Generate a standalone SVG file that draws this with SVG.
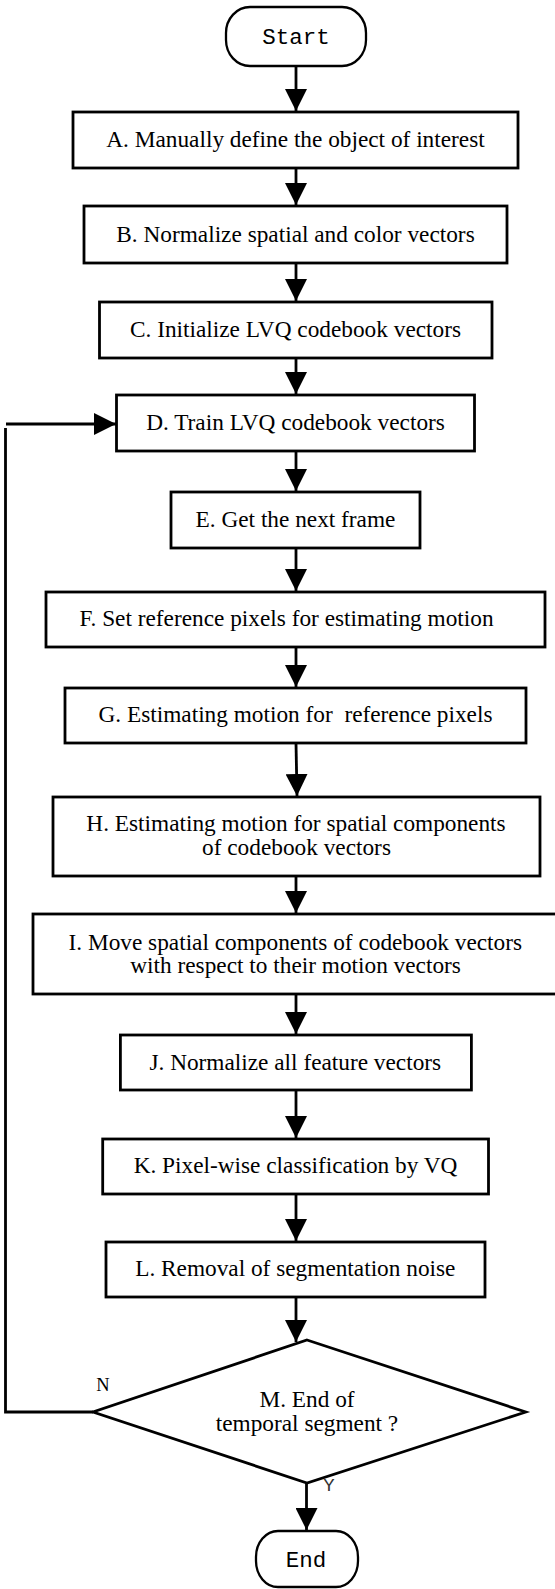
<svg xmlns="http://www.w3.org/2000/svg" width="555" height="1589" viewBox="0 0 555 1589">
<style>
.box{fill:#fff;stroke:#000;stroke-width:2.8}
.term{fill:#fff;stroke:#000;stroke-width:2.3}
.t{font-family:"Liberation Serif","Times New Roman",serif;font-size:23.3px;fill:#000;text-anchor:middle;white-space:pre}
.m{font-family:"Liberation Mono","Courier New",monospace;font-size:22.5px;fill:#000;text-anchor:middle}
.c{fill:none;stroke:#000;stroke-width:2.8}
</style>
<defs>
<marker id="ah" markerUnits="userSpaceOnUse" markerWidth="22" markerHeight="22" refX="22" refY="11" orient="auto">
<path d="M0,0 L22,11 L0,22 z" fill="#000"/>
</marker>
</defs>
<g id="connectors">
<line class="c" x1="296" y1="66" x2="296" y2="111" marker-end="url(#ah)"/>
<line class="c" x1="296" y1="168" x2="296" y2="205" marker-end="url(#ah)"/>
<line class="c" x1="296" y1="263" x2="296" y2="301" marker-end="url(#ah)"/>
<line class="c" x1="296" y1="358" x2="296" y2="394" marker-end="url(#ah)"/>
<line class="c" x1="296" y1="451" x2="296" y2="491" marker-end="url(#ah)"/>
<line class="c" x1="296" y1="548" x2="296" y2="591" marker-end="url(#ah)"/>
<line class="c" x1="296" y1="647" x2="296" y2="687" marker-end="url(#ah)"/>
<line class="c" x1="296" y1="743" x2="297" y2="796" marker-end="url(#ah)"/>
<line class="c" x1="296" y1="876" x2="296" y2="913" marker-end="url(#ah)"/>
<line class="c" x1="296" y1="994" x2="296" y2="1034" marker-end="url(#ah)"/>
<line class="c" x1="296" y1="1090" x2="296" y2="1138" marker-end="url(#ah)"/>
<line class="c" x1="296" y1="1194" x2="296" y2="1241" marker-end="url(#ah)"/>
<line class="c" x1="296" y1="1297" x2="296" y2="1342" marker-end="url(#ah)"/>
<line class="c" x1="306.5" y1="1483" x2="306.5" y2="1530" marker-end="url(#ah)"/>
<polyline class="c" points="93,1412 5.5,1412 5.5,428"/>
<line class="c" x1="6" y1="424" x2="116" y2="424" marker-end="url(#ah)"/>
<text x="103" y="1391" style="font-family:'Liberation Serif','Times New Roman',serif;font-size:18.5px;text-anchor:middle">N</text>
<text x="329" y="1491" style="font-family:'Liberation Mono','Courier New',monospace;font-size:19px;text-anchor:middle;fill:#333">Y</text>
</g>
<g id="start">
<rect class="term" x="226" y="7" width="140" height="59" rx="24" ry="26"/>
<text class="m" x="296" y="44">Start</text>
</g>
<g id="A">
<rect class="box" x="73" y="112" width="445" height="56"/>
<text class="t" x="295.5" y="147">A. Manually define the object of interest</text>
</g>
<g id="B">
<rect class="box" x="84" y="206" width="423" height="57"/>
<text class="t" x="295.5" y="242">B. Normalize spatial and color vectors</text>
</g>
<g id="C">
<rect class="box" x="99.5" y="302" width="392.5" height="56"/>
<text class="t" x="295.5" y="337">C. Initialize LVQ codebook vectors</text>
</g>
<g id="D">
<rect class="box" x="116.5" y="395" width="358" height="56"/>
<text class="t" x="295.5" y="430">D. Train LVQ codebook vectors</text>
</g>
<g id="E">
<rect class="box" x="171" y="492" width="249" height="56"/>
<text class="t" x="295.5" y="527">E. Get the next frame</text>
</g>
<g id="F">
<rect class="box" x="46" y="592" width="499" height="55"/>
<text class="t" x="286.5" y="626">F. Set reference pixels for estimating motion</text>
</g>
<g id="G">
<rect class="box" x="65" y="688" width="461" height="55"/>
<text class="t" x="295.5" y="722">G. Estimating motion for  reference pixels</text>
</g>
<g id="H">
<rect class="box" x="53" y="797" width="487" height="79"/>
<text class="t" x="296" y="831">H. Estimating motion for spatial components</text>
<text class="t" x="296.5" y="854.5">of codebook vectors</text>
</g>
<g id="I">
<rect class="box" x="33" y="914" width="530" height="80"/>
<text class="t" x="295.3" y="949.5">I. Move spatial components of codebook vectors</text>
<text class="t" x="295.6" y="973">with respect to their motion vectors</text>
</g>
<g id="J">
<rect class="box" x="120.4" y="1035" width="351" height="55"/>
<text class="t" x="295.3" y="1070">J. Normalize all feature vectors</text>
</g>
<g id="K">
<rect class="box" x="102.7" y="1139" width="385.8" height="55"/>
<text class="t" x="295.5" y="1173">K. Pixel-wise classification by VQ</text>
</g>
<g id="L">
<rect class="box" x="106" y="1242" width="379" height="55"/>
<text class="t" x="295.3" y="1276">L. Removal of segmentation noise</text>
</g>
<g id="M">
<polygon class="box" points="307,1340 525.7,1412 307,1483 93,1412"/>
<text class="t" x="307" y="1407">M. End of</text>
<text class="t" x="307" y="1430.5">temporal segment ?</text>
</g>
<g id="end">
<rect class="term" x="256" y="1531" width="102" height="56" rx="22" ry="26"/>
<text class="m" x="306" y="1567">End</text>
</g>
</svg>
